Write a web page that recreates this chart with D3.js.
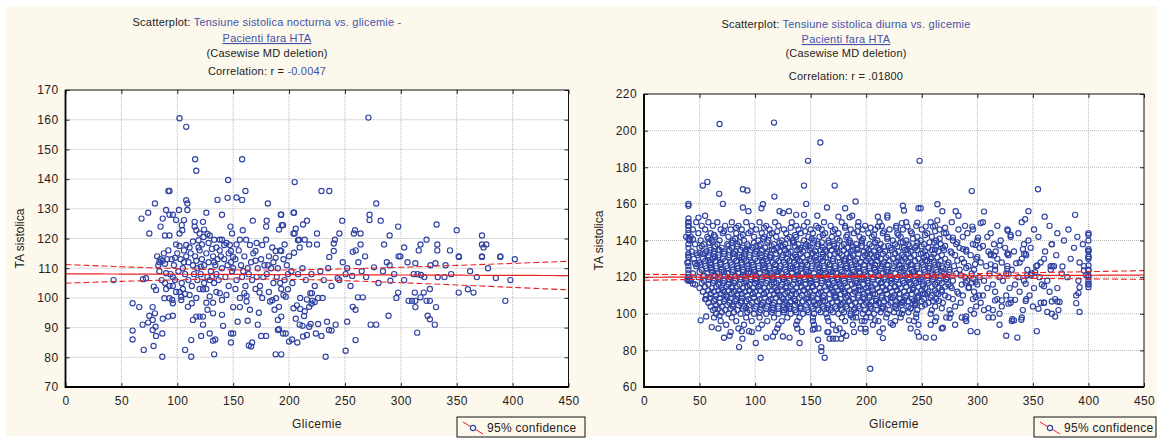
<!DOCTYPE html>
<html><head><meta charset="utf-8">
<script src="https://cdn.jsdelivr.net/npm/d3@7/dist/d3.min.js"></script>
<style>
body{margin:0;background:#fff;}
text{font-family:"Liberation Sans",Arial,sans-serif;}
</style></head><body>
<svg id="c" width="1157" height="438"></svg>
<script>
// ---------- DATA ----------
const xTicks = [0,50,100,150,200,250,300,350,400,450];
const nightYTicks = [70,80,90,100,110,120,130,140,150,160,170];
const dayYTicks = [60,80,100,120,140,160,180,200,220];

const nightTitle = ["Tensiune sistolica nocturna vs. glicemie -", "Pacienti fara HTA", "(Casewise MD deletion)", "-0.0047"];
const dayTitle = ["Tensiune sistolica diurna vs. glicemie", "Pacienti fara HTA", "(Casewise MD deletion)", ".01800"];

// regression: [intercept, slope], band: [centre glucose, half-width at centre, spread]
const nightFit = [108.1, -0.0013];
const nightBand = [170, 1.5, 0.0163];
const dayFit = [119.9, 0.0028];
const dayBand = [180, 0.6, 0.0085];

// Nocturnal systolic vs glucose: [glucose, TA]
const nightPoints = [
[102,160.5],[108,157.6],[271,160.7],[116,146.7],[158,146.7],[117,142.8],[145.5,139.7],[205,139],
[92,136],[93,136],[229,136],[236,136],[145,133.7],[153,133.8],[158,133],[161,136],[136,133],[108,132.9],[109,131.8],[80,131.8],[278,131.8],[181,131.8],
[74,128.7],[68,126.7],[75,121.7],[85,124],[90,129.6],[93,128],[96,128],[87,126.7],[101.5,129.6],[109,129.6],[99,126.2],[106,126.2],[104,124.5],[102,121.7],[104.5,122.8],[89,121],[93,121],[108,117.8],[106,116],
[115.5,125.6],[115.5,124],[123,125.6],[126,128.7],[117,122.8],[120,121.7],[124,123],[127,121.5],[123.5,120.5],[119,119.4],[129,121],[133,119.6],[138,119.6],[140,119.6],[140,128],[147.6,124],[149,121.7],[147,117.8],[142,117.8],[148,115.8],[150,113.8],[158.6,122.8],[156,119.6],[161.6,119.6],[165,117.8],[170,115.8],[167.6,126],[176,117.8],[179.5,124],[180,126],[193,128],[194.6,124.5],[191,123],[179.5,119.6],[188,115.8],[193,115.8],[204,128.7],[205,121.7],[206,123.3],[208,119.4],
[204.5,128.7],[192.6,128],[193.5,124.5],[272,128],[272,126.2],[282,126],[247.6,126],[216,126],[212.5,124.7],[204,121.7],[209,119.6],[214,119.6],[225,121.7],[241,119.6],[245,121.7],[240,118.3],[259,122.8],[258,121.7],[264,121.7],[264,118],[218,118],[225,118],[209.5,117],[204.5,115.2],[192,116],[240,115.8],[236,113.8],[257,115.5],[259.6,116],[285,118],[290,121],[297.6,124],[303,117],[299.6,114],[317.6,118],[316,116],[323,119.6],[332,124.7],[332.6,118],[332.6,116],[344,116],[350,122.8],[352,113.8],[372.6,121],[372.6,118],[376.5,118],[374,117],[372.6,113.8],[389,113.8],
[43,106],[60,98.2],[66,96.9],[60,86],[60,89],[70,82.5],[69,91],[74,91.7],[75,94],[78,92.6],[80,94.8],[80.6,90.3],[78.8,83.8],[81,87.2],[78,89.2],[86.6,88],[86.6,80.2],[78,96.9],[69.3,106.3],[72,106.6],[79,103.8],[81,102.7],[88.5,99.9],[93,99.9],[95.5,99.3],[85,113],[87,112.5],[89,111.5],[91,113],[90,108.3],[96,107],[90,103],[93,104],[96,104],[87,93],[92,93.7],[96,94],[96,98.2],[103.6,99.3],[103.6,100.4],[102,102],[107,101.3],[107,82.5],[112.5,80.2],[112.5,85.8],[109.5,97],[113,98.2],[114,92.6],[117,93.7],[120,93.7],[123,93.7],[123,91],[121.4,87.2],[129,88],[132,85.6],[134,86],[133,81],[127,96],[132,94.8],[126,98.4],[132,98.4],[120,103],[123,102.9],[126,103],[138,101.6],[140,99.3],[141,90.6],[140,94.3],[148,88],[150,88],[148,85],[150,96.9],[156,96.9],[154,92],[163,92.3],[165,96],[162,98.8],[160,101.6],[162,100.7],[164,84],[167,85],[166,83.6],[172,91],[173,95],[173.6,101.8],[175,87.2],[179.5,87.2],[183,98.8],[185,99.2],[188.4,99.9],[187,96],[188,81],[193,81],[190,89.2],[191,89.5],[190,92.6],[193,93.7],[194.6,88],[197,88],[197,100.4],[199,102.9],[200,85.3],[202.6,86],[191,97],[193,103],
[232.7,80.2],[250.6,82.2],[259.5,85.8],[252,92],[235.7,89.2],[238,89],[224,88],[216,87.5],[212.5,87],[207.4,85],[206,93],[213.4,93.9],[218,90.3],[219.3,91.2],[209.5,91],[212,90.6],[226,91.2],[234,92],[229,87.2],[204,96.5],[207,97.5],[210,96.3],[214,95.5],[218,97],[220,98],[210,100],[216,99.5],[221,99],[223,98.6],[226,100],[230,100],[219,101.6],[220.5,101.6],[241.7,91],[257,97],[259.5,96],[261.6,100.2],[266,100.2],[273,91],[278,91],[289,94],[296,100],[297.6,101.8],[307,99],[310,99],[313,99],[313,96.9],[314.6,88.3],[312.5,101.8],[317.6,100.2],[320.5,101.8],[323,99],[326,99],[324,94],[326,92.8],[330.4,91],[331.5,96.9],[326,103],[351.8,101.8],[360,102.9],[365,101.8],[385,106.7],[393.5,99],[351.8,114],[372.6,114],[389,114],[318,107.7],[321,107],[333,107],[339,107],[311.5,108],[315,108],[287.5,112],[290,111],[276,110.3],[290.6,105.8],[269,107],[250.6,108],[256.5,107.4],[243.5,106.6],[245,106],[298,114],[313,111.7],[326.5,111],[331,111.7],
[82,114],[84,112],[88,115],[92,116],[95,113],[97,111],[100,115],[103,113],[105,110],[108,114],[110,112],[112,115],[114,111],[116,114],[118,110],[120,116],[122,113],[124,111],[126,115],[128,112],[130,109],[132,114],[134,111],[136,113],[138,116],[140,110],[142,113],[145,111],[146,115],[150,110],[152,113],[155,116],[157,111],[160,114],[163,110],[166,112],[168,115],[172,110],[175,113],[178,111],[182,114],[184,110],[186,112],[190,110],[195,113],[198,111],[200,114],[202,109],
[84,109],[86,106],[89,105],[94,108],[98,106],[101,109],[104,105],[107,108],[110,106],[113,104],[115,108],[118,106],[121,108],[124,105],[127,107],[129,106],[131,107],[133,105],[135,108],[137,106],[143,107],[146,104],[149,109],[153,106],[158,107],[161,104],[164,108],[167,106],[171,107],[174,104],[177,107],[180,108],[186,105],[189,107],[192,105],[196,106],[199,108],[203,105],[208,108],[212,110],[215,106],[220,108],[223,104],[228,109],[231,106],[235,110],[238,104],[248,112],[252,110],[255,104],[262,112],[265,109],[268,114],[280,105],[284,109],[294,108],[303,106],[306,112],[340,111],[345,108],[362,109],[368,107],[378,110],[398,106],[402,113],
[99,118],[102,117.5],[111,117],[114,119],[119,117],[122,118],[128,118.5],[131,116.5],[135,117],[144,118.5],[153,118],[171,118.5],[185,117],[196,118],
[99,102],[105,103],[111,101],[117,100],[129,100.5],[135,102],[144,101],[152,103],[156,100],[170,103],[176,100],[182,102],[195,101],
[83,111],[98,113.5],[106,112],[117,112.5],[121,110.5],[133,112],[139,114],[148,112],[159,109],[170,112.5],[181,111],[188,113.5]
];

// Daytime systolic vs glucose: scattered readings [glucose, TA]
const dayPoints = [
[68,203.6],[117,204.4],[158.7,193.5],[147.6,183.5],[53,170],[57,172],[67.7,165.5],[71,160],[89,168],[93,167.3],[117.4,164],[144,170],[146,160],[171.6,170],[164.7,158],[107,159.8],[190.4,161.3],[181,157.6],[40,160],[40,159],[40,152],[40,148],[40,145.8],[49,152.5],[55,153.5],[89,158],[94,156],[105.7,157.6],[122,156],[125,155],[130.5,156],[137,154],[144,154],[156,153.5],[175,153],[185,152.7],[187.4,153.5],[192.5,148],[210.5,153],[210.5,147.6],[38,142],[41,140.7],[44,140.7],[50,133],[47,133],
[248,183.5],[295,167],[354.6,168],[388,154],[360.6,153],[346,156],[343,151.6],[306,155.8],[303,149.5],[295.5,147.6],[280.5,156],[283,153.5],[264,159.8],[268.5,156],[247,157.6],[249,157.6],[233,159],[234,156.4],[219,153.7],[219,152.5],[232,149.5],[237,147.6],[246,149.8],[253.5,147.6],[260,147.6],[264,151],[272,144],[278,141.6],[300.6,141.6],[327.6,145.3],[330,143],[400,143],[367,138],[320,137.3],[298.5,137.6],[341,135.3],[400,135.3],[400,131.3],[312,132.7],[316.5,134],[327.6,133],[343.6,132.7],[287,135.3],
[203.6,70],[105,76],[162.6,76],[85.6,81.8],[100.6,84],[140,84],[159.6,81.8],[159.6,79.6],[156.6,85.8],[88.6,86.4],[94.6,90.5],[88,90.5],[72,86.9],[77,88],[110,87],[116,87.6],[125,87.6],[131,87],[61,92.7],[51,96.4],[56,98.5],[68,99],[64,102.7],[56,108],[39,118.5],[41,118.5],[44,116.4],[48,127],[46,127.6],[39,128],[167,86.4],[170,86.4],[173,86.4],[177.5,86.4],[182,88],[166,90],[173,91],[179,89.5],[199.4,90],[199.4,91.8],[188,98],[186,99],[198.5,96],[200,98],[208,96.4],[152,91.3],[153.6,91.8],[131,102.7],[128,102.7],
[215,86.7],[222,94.9],[247.4,87.5],[253.5,87],[261,87],[269,92.4],[258,94],[272,98],[275,97.8],[294,90.5],[289,97.3],[290,98.5],[326,88],[336,87],[353.5,90.5],[331.5,97],[333,96.4],[339.6,96.7],[314,98],[306,102],[310,103],[298.5,109],[301.5,110],[316,107.3],[322,107.3],[328,105.5],[330,107.6],[334,107.6],[343.5,107],[357,106],[360,106],[363,101],[367,100],[370,98.5],[355,102.7],[374,106.4],[367,106.7],[372,106.7],[389,105.8],[392,101],[392,114.5],[391,111.3],[400,118],[400,116.4],[400,114.5],[400,121],[400,123.6],[400,126.4],[400,131],[400,134.5],[396,123.6],[376.6,125.8],[366,126],[367.6,126],[354,126.4],[345,121],[348,121],[352,122.7],[360,115],[343.5,116.4],[335,127.6],[327,124.5],[328,121.8],[312,127],[316,126],[315,131.8],[327,132.7],[342,132.7],[296.5,119],[298.5,117.3],[289.5,117],[292.5,114.5],[265.5,107],[263,111.3],[251,111],[243,107],[244.5,105.5],[238.5,96.4],[229.5,100.4],[232.5,106.4],
[40,150],[40,141],[40,138],[40,133],[40,131],[40,126],[40,122],[40,120],[40,118]
];

// Daytime dense cloud, read row by row: [TA, [glucose values]]
const dayRows = [
[150,[40,47,58,66,79,92,104,118,133,147,162,178,193,212,236,258,277,305,340]],
[148,[40,52,62,73,85,97,110,121,137,144,155,168,181,199,214,227,245,262,289,318,365]],
[147,[83,108,132,157,181,204,227,271]],
[146,[44,55,69,78,88,101,113,126,139,150,160,172,186,197,208,221,233,250,266,283,296,327,351,382]],
[145,[72,96,120,145,170,192,216,240,262]],
[144,[40,49,60,71,83,94,106,115,128,141,152,163,175,189,202,215,228,241,255,270,291,312,337,372,400]],
[143,[63,89,113,136,161,183,207,229,253]],
[142,[42,57,64,76,87,99,108,119,131,137,148,158,169,182,194,205,219,231,246,259,274,287,309,330,355,390]],
[141,[58,82,107,129,151,174,197,219,242,266]],
[140,[41,51,61,68,80,90,103,112,124,134,144,153,166,176,185,196,210,224,236,249,263,278,300,321,346,378,400]],
[139,[62,86,111,135,160,184,208,233,257,282]],
[138,[46,54,66,75,84,93,105,117,127,139,146,157,171,180,191,203,213,226,238,252,267,281,296,315,342,367,395]],
[137,[52,76,101,123,148,171,196,220,245,271,305]],
[136,[40,50,59,70,79,89,98,109,120,130,141,150,161,173,183,192,200,211,222,234,244,256,269,284,302,325,348,387]],
[135,[67,92,115,140,163,188,212,237,262,290]],
[134,[43,56,63,72,82,91,101,111,122,132,143,154,164,174,186,198,207,217,229,240,253,265,276,290,310,333,361,400]],
[133,[55,80,104,128,152,176,201,226,251,277]],
[132,[40,48,58,67,77,86,95,106,114,125,136,147,155,167,178,188,199,209,220,232,243,254,268,280,294,312,328,344,371]],
[131,[64,88,113,137,161,185,210,234,259,300]],
[130,[45,53,62,71,81,90,100,110,119,129,138,149,159,170,181,192,202,213,224,235,247,258,271,286,299,318,340,360,384,400]],
[129,[58,83,107,131,155,180,204,229,253,282]],
[128,[40,50,60,69,78,88,97,107,116,126,135,145,156,165,176,186,195,205,216,227,238,250,261,274,288,303,322,338,357,392]],
[127,[69,94,118,142,167,191,215,240,265,298]],
[126,[47,55,65,74,84,93,103,113,123,132,142,151,162,172,182,193,203,214,225,236,246,257,268,279,292,308,327,353,369,396]],
[125,[60,85,109,134,158,183,207,232,256,290]],
[124,[40,52,61,70,80,89,99,108,118,127,137,146,157,167,177,188,198,208,219,230,241,252,263,275,284,297,316,331,345,366,400]],
[123,[72,96,121,146,170,194,218,243,268]],
[122,[44,57,66,75,85,94,104,114,124,133,143,153,163,173,184,194,204,215,226,237,248,259,270,281,295,311,326,349,376]],
[121,[64,89,113,138,162,186,211,235,260,285,398]],
[120,[40,49,59,68,78,87,96,106,116,125,135,144,154,164,174,185,196,206,217,228,239,250,261,273,289,302,320,337,356,381,400]],
[119,[76,100,125,149,174,198,223,247,272]],
[118,[42,54,63,72,82,92,101,111,121,131,140,150,160,170,180,191,201,211,222,233,244,255,266,278,291,306,323,342,363,391]],
[117,[68,92,117,141,166,190,214,239,264,295]],
[116,[46,58,67,76,86,95,105,115,124,134,145,155,166,176,187,197,208,218,229,240,251,262,274,286,300,314,334,358,400]],
[115,[79,104,128,152,177,202,226,251,276]],
[114,[50,61,70,79,89,98,108,118,128,137,147,158,168,178,189,200,210,221,231,242,253,265,277,292,309,329,351,372]],
[113,[71,95,120,144,169,193,218,242,268]],
[112,[53,63,72,81,91,100,110,120,129,139,149,159,170,180,190,201,212,223,234,245,256,268,282,297,316,338,365]],
[111,[84,108,133,157,181,206,230,255,283]],
[110,[56,65,74,84,93,103,113,122,132,142,152,162,172,183,193,203,214,225,236,247,259,271,287,305,326,347,389]],
[109,[75,99,124,148,173,197,222,247,274]],
[108,[55,64,73,83,94,104,114,125,135,146,156,167,177,188,198,209,219,230,241,252,263,278,296,318,344,370]],
[107,[88,112,136,161,185,209,234,260]],
[106,[58,68,77,87,97,107,117,127,138,148,158,169,179,190,200,211,222,232,244,256,269,285,303,330,360]],
[105,[80,105,129,154,178,203,227,253]],
[104,[60,70,80,90,101,111,121,131,141,151,161,172,182,193,204,215,226,238,250,262,280,299,322,350]],
[103,[92,116,141,165,190,214,240,268]],
[102,[62,73,84,95,105,116,126,136,147,157,168,178,189,199,210,221,233,246,259,275,294,314,341,373]],
[100,[65,76,87,99,110,121,132,143,153,164,175,186,197,207,219,232,245,258,276,297,320]],
[98,[63,79,92,104,117,129,140,152,165,178,191,204,218,231,245,263,286,310,340]],
[96,[69,83,97,111,124,138,152,166,181,196,211,226,243,262,290,331]],
[94,[74,90,106,121,137,153,170,188,206,224,247,280,320]],
[92,[67,85,103,120,138,157,176,195,215,240,268]],
[90,[78,97,118,142,165,189,212,246,300]]
];

// Further readings in the densest part of the daytime cloud: [TA, [glucose values]]
const dayCore = [
[138.8,[59,79,99,122,134,152,166,186,196,208,231,246,261]],
[136.8,[64,84,94,104,115,125,136,145,156,167,178,188,205,216,228,239,250,263]],
[134.8,[60,68,77,87,96,106,117,127,138,149,159,169,180,192,202,212,223,235,246,259,270]],
[132.8,[53,63,72,81,91,100,110,119,130,141,151,161,172,183,193,204,215,226,238,249,261]],
[130.8,[58,67,76,86,95,105,114,124,134,143,154,164,175,186,197,207,218,229,240,252,264]],
[128.8,[55,64,73,83,92,102,111,121,131,140,150,161,170,181,190,200,210,221,232,244,255,267]],
[126.8,[51,60,69,79,88,98,108,118,127,137,147,156,167,177,187,198,208,219,230,241,251,262,273]],
[124.8,[56,65,75,84,94,103,113,122,132,141,151,162,172,182,193,203,213,224,235,246,257,269]],
[122.8,[50,61,70,80,89,99,109,119,128,138,148,158,168,178,189,199,209,220,231,242,253,264,275]],
[120.8,[54,63,73,82,91,101,111,120,130,139,149,159,169,179,190,201,211,222,233,244,255,267]],
[118.8,[58,67,77,87,96,106,116,126,135,145,155,165,175,185,196,206,216,227,238,249,260,272]],
[116.8,[52,62,71,81,90,100,110,119,129,139,150,160,171,181,192,202,213,223,234,245,256,268]],
[114.8,[55,65,74,84,93,103,113,123,132,142,152,163,173,183,194,205,215,226,236,247,259,271]],
[112.8,[58,67,76,86,95,105,115,124,134,144,154,164,175,185,195,206,217,228,239,250,262]],
[110.8,[60,69,79,88,98,108,117,127,137,147,157,167,177,188,198,208,219,230,241,253,265]],
[108.8,[59,68,78,88,99,109,119,130,140,151,161,172,182,193,203,214,224,235,246,258]],
[106.8,[63,72,82,92,102,112,122,132,143,153,163,174,184,195,205,216,227,238,250]],
[104.8,[65,75,85,95,106,116,126,136,146,156,166,177,187,198,209,220,232,244]],
[102.8,[67,78,89,100,110,121,131,141,152,162,173,183,194,204,215,227,240]],
[100.8,[70,81,93,104,115,126,137,148,159,170,180,191,202,213,225,238]]
];

// ---------- DRAW ----------
const BLUE = "#3043a3", RED = "#ec2323", TXT = "#222", TBLUE = "#4152a8";
const svg = d3.select("#c");
svg.append("rect").attr("x",6).attr("y",6).attr("width",1151).attr("height",430).attr("fill","#fdf8ec");

function panel(cfg) {
  const x = d3.scaleLinear().domain([0,450]).range([cfg.x0, cfg.x1]);
  const y = d3.scaleLinear().domain(cfg.yDomain).range([cfg.y1, cfg.y0]);
  const g = svg.append("g");
  g.append("rect").attr("x",cfg.x0).attr("y",cfg.y0).attr("width",cfg.x1-cfg.x0).attr("height",cfg.y1-cfg.y0).attr("fill","#fff");

  // grid
  g.selectAll(".gx").data(xTicks.slice(1,-1)).join("line")
    .attr("x1",d=>x(d)).attr("x2",d=>x(d)).attr("y1",cfg.y0).attr("y2",cfg.y1)
    .attr("stroke","#b8b8b8").attr("stroke-width",1).attr("stroke-dasharray","1,1");
  g.selectAll(".gy").data(cfg.yTicks.slice(1,-1)).join("line")
    .attr("y1",d=>y(d)).attr("y2",d=>y(d)).attr("x1",cfg.x0).attr("x2",cfg.x1)
    .attr("stroke","#b8b8b8").attr("stroke-width",1).attr("stroke-dasharray","1,1");

  // points
  const clip = "clip"+cfg.id;
  svg.append("clipPath").attr("id",clip).append("rect").attr("x",cfg.x0).attr("y",cfg.y0).attr("width",cfg.x1-cfg.x0).attr("height",cfg.y1-cfg.y0);
  const pg = g.append("g").attr("clip-path","url(#"+clip+")");
  pg.selectAll("circle").data(cfg.points).join("circle")
    .attr("cx",d=>x(d[0])).attr("cy",d=>y(d[1])).attr("r",2.6)
    .attr("fill","none").attr("stroke",BLUE).attr("stroke-width",1.15);

  // regression + 95% band
  const xs = d3.range(0, 451, 5);
  const fit = v => cfg.fit[0] + cfg.fit[1]*v;
  const hw = v => Math.sqrt(cfg.band[1]*cfg.band[1] + Math.pow(cfg.band[2]*(v-cfg.band[0]),2));
  const line = d3.line().x(d=>x(d[0])).y(d=>y(d[1]));
  pg.append("path").attr("d",line(xs.map(v=>[v,fit(v)]))).attr("fill","none").attr("stroke",RED).attr("stroke-width",1.2);
  pg.append("path").attr("d",line(xs.map(v=>[v,fit(v)+hw(v)]))).attr("fill","none").attr("stroke",RED).attr("stroke-width",1.1).attr("stroke-dasharray","6,3");
  pg.append("path").attr("d",line(xs.map(v=>[v,fit(v)-hw(v)]))).attr("fill","none").attr("stroke",RED).attr("stroke-width",1.1).attr("stroke-dasharray","6,3");

  // axes
  const ax = (a) => a.tickSizeInner(-4).tickSizeOuter(0);
  const bottom = g.append("g").attr("transform",`translate(0,${cfg.y1})`).call(ax(d3.axisBottom(x).tickValues(xTicks).tickFormat(d3.format("d"))).tickPadding(9));
  const left = g.append("g").attr("transform",`translate(${cfg.x0},0)`).call(ax(d3.axisLeft(y).tickValues(cfg.yTicks).tickFormat(d3.format("d"))).tickPadding(7));
  const right = g.append("g").attr("transform",`translate(${cfg.x1},0)`).call(ax(d3.axisRight(y).tickValues(cfg.yTicks).tickFormat("")));
  const top = g.append("g").attr("transform",`translate(0,${cfg.y0})`).call(ax(d3.axisTop(x).tickValues(xTicks).tickFormat("")));
  [bottom,left,right,top].forEach(a=>{
    a.select(".domain").remove();
    a.selectAll(".tick line").attr("stroke","#222");
    a.selectAll("text").attr("fill",TXT).attr("font-size",12).attr("letter-spacing","0.4px").attr("font-family","'Liberation Sans',Arial,sans-serif");
  });
  g.append("rect").attr("x",cfg.x0).attr("y",cfg.y0).attr("width",cfg.x1-cfg.x0).attr("height",cfg.y1-cfg.y0)
    .attr("fill","none").attr("stroke","#111").attr("stroke-width",1);
  g.append("path").attr("d",`M${cfg.x0},${cfg.y0}V${cfg.y1}H${cfg.x1}`).attr("fill","none").attr("stroke","#000").attr("stroke-width",1.8);

  // axis titles
  g.append("text").attr("x",(cfg.x0+cfg.x1)/2).attr("y",428).attr("text-anchor","middle")
    .attr("font-size",12).attr("letter-spacing","0.4px").attr("fill",TXT).text("Glicemie");
  g.append("text").attr("transform",`translate(${cfg.ylabX},${(cfg.y0+cfg.y1)/2}) rotate(-90)`).attr("text-anchor","middle")
    .attr("font-size",12).attr("fill",TXT).text("TA sistolica");

  // titles
  const t = cfg.title, cx = cfg.tcx, fs = 11;
  const l1 = g.append("text").attr("x",cx).attr("y",cfg.ty[0]).attr("text-anchor","middle").attr("font-size",fs).attr("letter-spacing","0.2px");
  l1.append("tspan").attr("fill",TXT).text("Scatterplot:  ");
  l1.append("tspan").attr("fill",TBLUE).text(t[0]);
  g.append("text").attr("x",cx).attr("y",cfg.ty[1]).attr("text-anchor","middle").attr("font-size",fs).attr("letter-spacing","0.2px")
    .attr("fill",TBLUE).attr("text-decoration","underline").text(t[1]);
  g.append("text").attr("x",cx).attr("y",cfg.ty[2]).attr("text-anchor","middle").attr("font-size",fs).attr("letter-spacing","0.2px").attr("fill",TXT).text(t[2]);
  const l4 = g.append("text").attr("x",cx).attr("y",cfg.ty[3]).attr("text-anchor","middle").attr("font-size",fs).attr("letter-spacing","0.2px");
  l4.append("tspan").attr("fill",TXT).text("Correlation: r = ");
  l4.append("tspan").attr("fill",cfg.rColor).text(t[3]);

  // legend
  const lg = g.append("g").attr("transform",`translate(${cfg.legX},417)`);
  lg.append("rect").attr("x",0).attr("y",0).attr("width",cfg.legW).attr("height",20).attr("fill","#fdf8ec").attr("stroke","#111").attr("stroke-width",1);
  lg.append("line").attr("x1",6).attr("y1",5).attr("x2",26).attr("y2",17).attr("stroke",RED).attr("stroke-width",1);
  lg.append("circle").attr("cx",16).attr("cy",11).attr("r",2.6).attr("fill","#fdf8ec").attr("stroke",BLUE).attr("stroke-width",1.15);
  lg.append("text").attr("x",30).attr("y",15).attr("font-size",12).attr("letter-spacing","0.3px").attr("fill",TXT).text("95% confidence");
}

const dayAll = dayPoints
  .concat(dayRows.flatMap(r => r[1].map(gv => [gv, r[0]])))
  .concat(dayCore.flatMap(r => r[1].map(gv => [gv, r[0]])));

panel({id:"n", x0:65.5, x1:568.5, y0:90, y1:387, yDomain:[70,170], yTicks:nightYTicks, points:nightPoints,
  fit:nightFit, band:nightBand, title:nightTitle, tcx:267, ty:[26,42,57,75], rColor:TBLUE, ylabX:24, legX:457, legW:128});
panel({id:"d", x0:644, x1:1144, y0:94, y1:387, yDomain:[60,220], yTicks:dayYTicks, points:dayAll,
  fit:dayFit, band:dayBand, title:dayTitle, tcx:846, ty:[28,43,57,80], rColor:TXT, ylabX:603, legX:1034, legW:122});
</script>
</body></html>
